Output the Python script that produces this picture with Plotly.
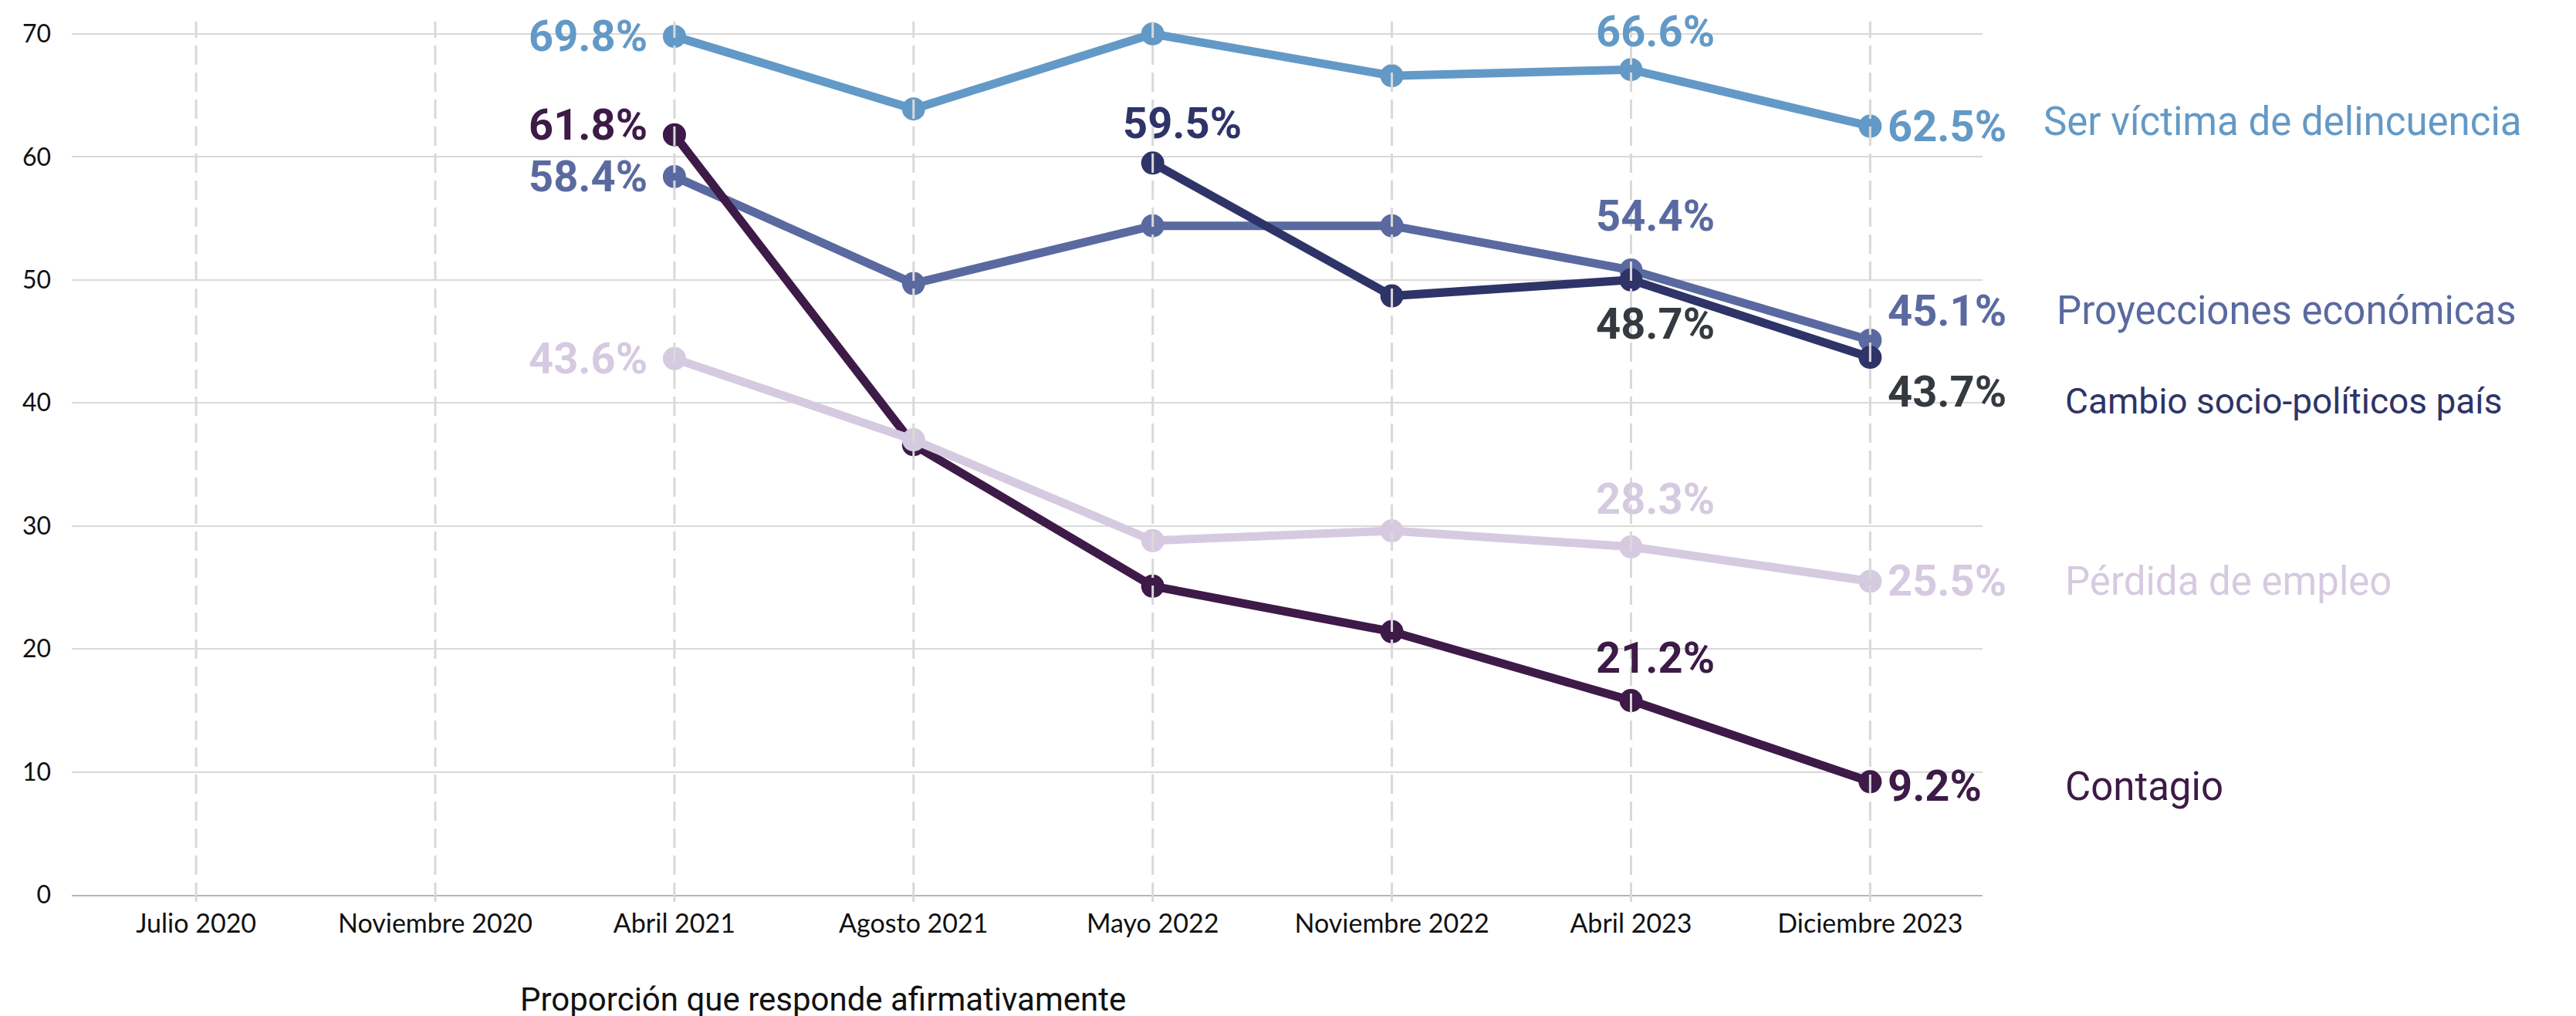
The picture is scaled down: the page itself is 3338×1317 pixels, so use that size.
import plotly.graph_objects as go

# Datos
periodos = ["Julio 2020", "Noviembre 2020", "Abril 2021", "Agosto 2021",
            "Mayo 2022", "Noviembre 2022", "Abril 2023", "Diciembre 2023"]

delincuencia = [None, None, 69.8, 63.9, 70.0, 66.6, 67.1, 62.5]
proyecciones = [None, None, 58.4, 49.7, 54.4, 54.4, 50.8, 45.1]
cambio = [None, None, None, None, 59.5, 48.7, 50.0, 43.7]
contagio = [None, None, 61.8, 36.6, 25.1, 21.4, 15.8, 9.2]
empleo = [None, None, 43.6, 37.0, 28.8, 29.6, 28.3, 25.5]

nombres = ["Ser víctima de delincuencia", "Proyecciones económicas",
           "Cambio socio-políticos país", "Contagio", "Pérdida de empleo"]

# etiquetas de porcentaje: (periodo, texto)
etiquetas_delincuencia = [("Abril 2021", "69.8%"), ("Abril 2023", "66.6%"), ("Diciembre 2023", "62.5%")]
etiquetas_proyecciones = [("Abril 2021", "58.4%"), ("Abril 2023", "54.4%"), ("Diciembre 2023", "45.1%")]
etiquetas_cambio = [("Mayo 2022", "59.5%"), ("Abril 2023", "48.7%"), ("Diciembre 2023", "43.7%")]
etiquetas_contagio = [("Abril 2021", "61.8%"), ("Abril 2023", "21.2%"), ("Diciembre 2023", "9.2%")]
etiquetas_empleo = [("Abril 2021", "43.6%"), ("Abril 2023", "28.3%"), ("Diciembre 2023", "25.5%")]

titulo_eje = "Proporción que responde afirmativamente"

series = [delincuencia, proyecciones, cambio, contagio, empleo]
etiquetas = [etiquetas_delincuencia, etiquetas_proyecciones, etiquetas_cambio,
             etiquetas_contagio, etiquetas_empleo]
colores = ["#6399c6", "#5a6aa0", "#2e3468", "#3d1a47", "#d6cae1"]

# colocación de las etiquetas: (anchor, xshift, yshift, color especial)
colocacion = {
    ("Abril 2021", 0): ("right", -34, 0, None),
    ("Abril 2021", 1): ("right", -34, 0, None),
    ("Abril 2021", 3): ("right", -34, 13, None),
    ("Abril 2021", 4): ("right", -34, 0, None),
    ("Mayo 2022", 2): ("left", -40, 51, None),
    ("Abril 2023", 0): ("left", -46, 49, None),
    ("Abril 2023", 1): ("left", -46, 70, None),
    ("Abril 2023", 2): ("left", -46, -57, "#343a40"),
    ("Abril 2023", 3): ("left", -46, 55, None),
    ("Abril 2023", 4): ("left", -46, 62, None),
    ("Diciembre 2023", 0): ("left", 22, 0, None),
    ("Diciembre 2023", 1): ("left", 22, 38, None),
    ("Diciembre 2023", 2): ("left", 22, -45, "#343a40"),
    ("Diciembre 2023", 3): ("left", 22, -6, None),
    ("Diciembre 2023", 4): ("left", 22, 0, None),
}
# desplazamiento y tamaño de los nombres de serie a la derecha
nombre_estilo = [(223, 6, 51), (240, 38, 51), (251, -57, 46), (251, -6, 51), (251, 0, 51)]

fig = go.Figure()

for i, valores in enumerate(series):
    fig.add_trace(go.Scatter(
        x=periodos,
        y=valores,
        mode="lines+markers",
        name=nombres[i],
        line=dict(color=colores[i], width=11),
        marker=dict(color=colores[i], size=30),
        connectgaps=False,
        showlegend=False,
        cliponaxis=False,
    ))

# lineas verticales punteadas por encima de las series
for p in periodos:
    fig.add_shape(
        type="line", xref="x", yref="paper",
        x0=p, x1=p, y0=-0.008, y1=1,
        line=dict(color="#d9d9d9", width=3, dash="25px,10px"),
        layer="above",
    )

for i, lista in enumerate(etiquetas):
    for periodo, texto in lista:
        idx = periodos.index(periodo)
        anchor, dx, dy, col = colocacion[(periodo, i)]
        fig.add_annotation(
            x=periodo, y=series[i][idx], xref="x", yref="y",
            text=texto, showarrow=False,
            xanchor=anchor, yanchor="middle",
            xshift=dx, yshift=dy, borderpad=0,
            font=dict(family="Roboto, sans-serif", size=56, color=col or colores[i], weight="bold"),
        )

# nombres de las series a la derecha
for i, valores in enumerate(series):
    dx, dy, tam = nombre_estilo[i]
    fig.add_annotation(
        x=periodos[-1], y=valores[-1], xref="x", yref="y",
        text=nombres[i], showarrow=False,
        xanchor="left", yanchor="middle",
        xshift=dx, yshift=dy,
        font=dict(family="Roboto, sans-serif", size=tam, color=colores[i]),
    )

fig.add_annotation(
    x=0.393, y=-0.12, xref="paper", yref="paper",
    text=titulo_eje, showarrow=False,
    xanchor="center", yanchor="middle", borderpad=0,
    font=dict(family="Roboto, sans-serif", size=42, color="#111111"),
)

fig.update_layout(
    width=3338,
    height=1317,
    margin=dict(l=85, r=777, t=20, b=165),
    plot_bgcolor="white",
    paper_bgcolor="white",
    font=dict(family="Lato, sans-serif", color="#111111"),
    xaxis=dict(
        type="category",
        range=[-0.52, 7.47],
        automargin=False,
        showgrid=False,
        showline=True,
        linecolor="#b5b5b5",
        linewidth=2,
        ticks="",
        ticklabelstandoff=6,
        tickfont=dict(family="Lato, sans-serif", size=34, color="#111111"),
    ),
    yaxis=dict(
        range=[0, 71],
        dtick=10,
        tick0=0,
        automargin=False,
        showgrid=True,
        gridcolor="#d9d9d9",
        gridwidth=2,
        zeroline=False,
        ticks="",
        ticklabelstandoff=26,
        tickfont=dict(family="Lato, sans-serif", size=32, color="#111111"),
    ),
)

fig.write_html("out.html")
